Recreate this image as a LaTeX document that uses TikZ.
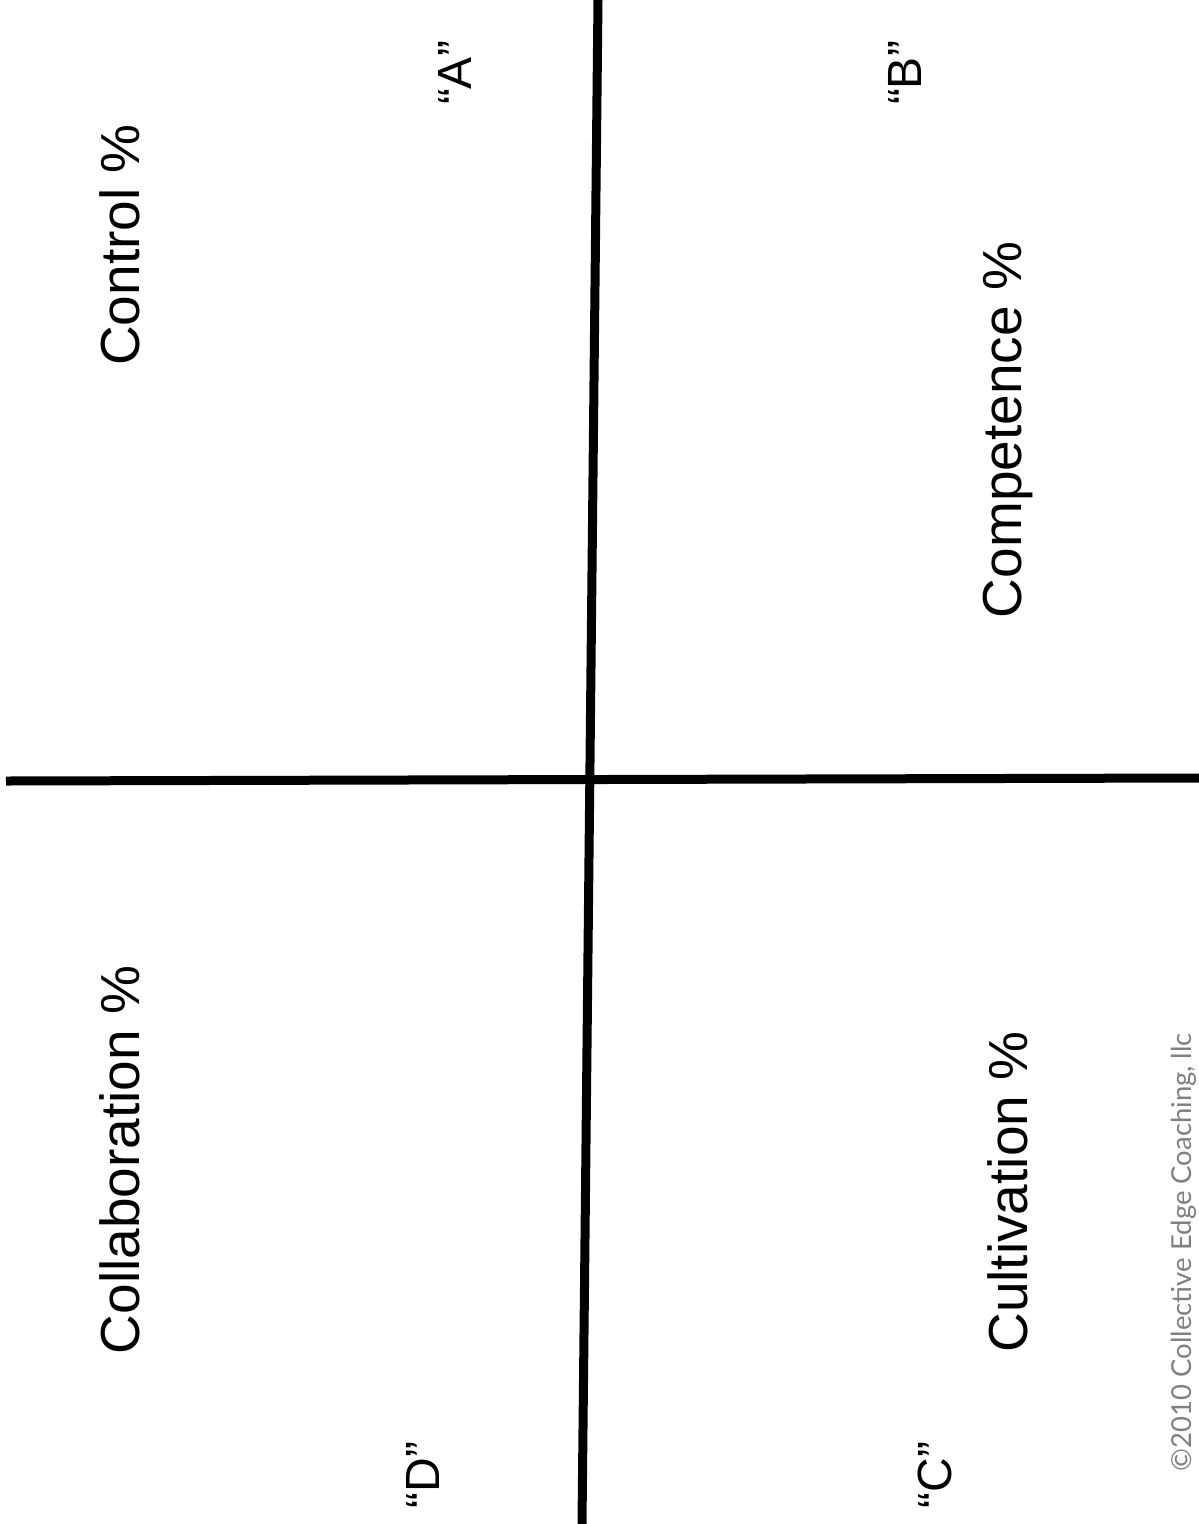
\documentclass[tikz,border=0pt]{standalone}
\usepackage{fontspec}
\setmainfont{Liberation Sans}
\newfontfamily\copyfont{Lato}
\definecolor{copygray}{RGB}{128,128,128}
\begin{document}
\begin{tikzpicture}[x=1pt,y=-1pt,
  axis/.style={line width=9pt, black},
  quad/.style={rotate=90, inner sep=0pt, font=\fontsize{55}{62}\selectfont},
  letter/.style={rotate=90, inner sep=0pt, font=\fontsize{48}{56}\selectfont},
  copy/.style={rotate=90, inner sep=0pt, text=copygray, font=\copyfont\fontsize{27.5}{32}\selectfont}]
\useasboundingbox[fill=white] (0,0) rectangle (1199,1524);
\coordinate (vtop) at (598,0);
\coordinate (vbot) at (582,1524);
\coordinate (hl) at (6,781);
\coordinate (hr) at (1199,778);
\draw[axis] (vtop) -- (vbot);
\draw[axis] (hl) -- (hr);
\node[quad] (control) at (120,245) {Control \%};
\node[quad] (competence) at (1008,430) {Competence \%};
\node[quad] (collab) at (120,1160) {Collaboration \%};
\node[quad] (cultiv) at (1008,1192) {Cultivation \%};
\node[letter] (A) at (455,73) {“A”};
\node[letter] (B) at (905,73) {“B”};
\node[letter] (D) at (423,1475) {“D”};
\node[letter] (C) at (935,1475) {“C”};
\node[copy] (copyr) at (1184,1252) {©2010 Collective Edge Coaching, llc};
\end{tikzpicture}
\end{document}
